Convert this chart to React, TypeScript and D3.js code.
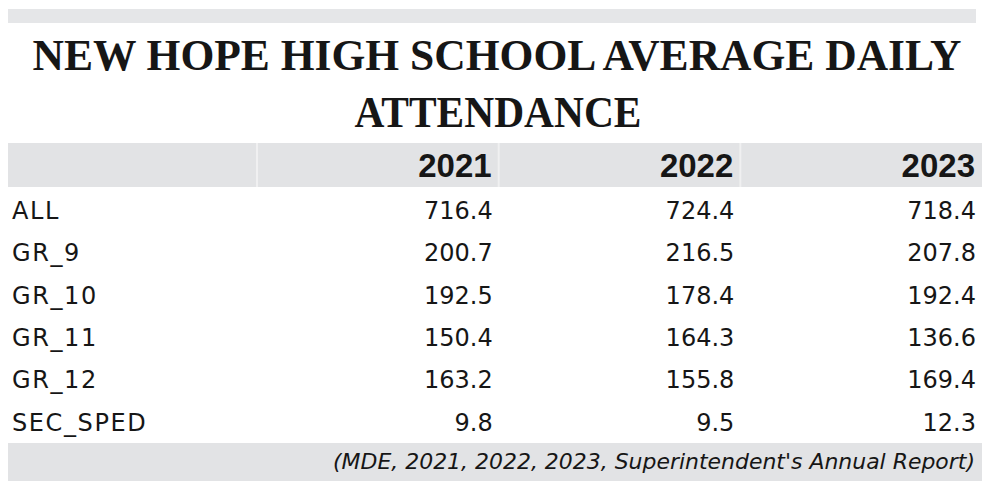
import React from "react";
import * as d3 from "d3";

const titleLines = ["NEW HOPE HIGH SCHOOL AVERAGE DAILY", "ATTENDANCE"];
const years = ["2021", "2022", "2023"];
const groups = ["ALL", "GR_9", "GR_10", "GR_11", "GR_12", "SEC_SPED"];
const values2021 = [716.4, 200.7, 192.5, 150.4, 163.2, 9.8];
const values2022 = [724.4, 216.5, 178.4, 164.3, 155.8, 9.5];
const values2023 = [718.4, 207.8, 192.4, 136.6, 169.4, 12.3];
const source = "(MDE, 2021, 2022, 2023, Superintendent's Annual Report)";

const width = 982;
const height = 481;
const band = "#e2e3e5";
const ink = "#161616";
const bodyFont = "'DejaVu Sans', sans-serif";
const titleFont = "'Liberation Serif', serif";

export default function App() {
  const series = [values2021, values2022, values2023];

  const x = d3.scaleBand().domain(years).range([257, width]);
  const y = d3.scaleBand().domain(groups).range([188, 442]);
  const fmt = d3.format(".1f");

  return (
    <svg
      width={width}
      height={height}
      style={{ position: "absolute", left: 0, top: 0, background: "#fff" }}
    >
      {/* top rule band */}
      <rect x={8} y={9} width={968} height={14} fill="#e5e6e8" />

      {/* title */}
      <text
        x={497}
        y={70}
        textAnchor="middle"
        fontFamily={titleFont}
        fontWeight="bold"
        fontSize={44}
        fill={ink}
        textLength={929}
        lengthAdjust="spacingAndGlyphs"
      >
        {titleLines[0]}
      </text>
      <text
        x={498}
        y={127}
        textAnchor="middle"
        fontFamily={titleFont}
        fontWeight="bold"
        fontSize={44}
        fill={ink}
        textLength={287}
        lengthAdjust="spacingAndGlyphs"
      >
        {titleLines[1]}
      </text>

      {/* header band */}
      <rect x={8} y={143} width={width - 8} height={44} fill={band} />
      {years.map((yr) => (
        <line
          key={"sep" + yr}
          x1={x(yr)!}
          x2={x(yr)!}
          y1={143}
          y2={187}
          stroke="#f0f0f1"
          strokeWidth={2}
        />
      ))}
      {years.map((yr) => (
        <text
          key={yr}
          x={x(yr)! + x.bandwidth() - 7}
          y={177}
          textAnchor="end"
          fontFamily="'Liberation Sans', sans-serif"
          fontWeight="bold"
          fontSize={33}
          fill={ink}
        >
          {yr}
        </text>
      ))}

      {/* rows */}
      {groups.map((g, i) => (
        <g key={g}>
          <text
            x={12}
            y={y(g)! + 31}
            fontFamily={bodyFont}
            fontSize={24}
            fill={ink}
            letterSpacing={1.6}
          >
            {g}
          </text>
          {years.map((yr, j) => (
            <text
              key={yr}
              x={x(yr)! + x.bandwidth() - 6}
              y={y(g)! + 31}
              textAnchor="end"
              fontFamily={bodyFont}
              fontSize={24}
              fill={ink}
            >
              {fmt(series[j][i])}
            </text>
          ))}
        </g>
      ))}

      {/* source band */}
      <rect x={8} y={443} width={width - 8} height={height - 443} fill={band} />
      <text
        x={975}
        y={469}
        textAnchor="end"
        fontFamily={bodyFont}
        fontStyle="italic"
        fontSize={21}
        fill={ink}
        textLength={642}
        lengthAdjust="spacingAndGlyphs"
      >
        {source}
      </text>
    </svg>
  );
}
